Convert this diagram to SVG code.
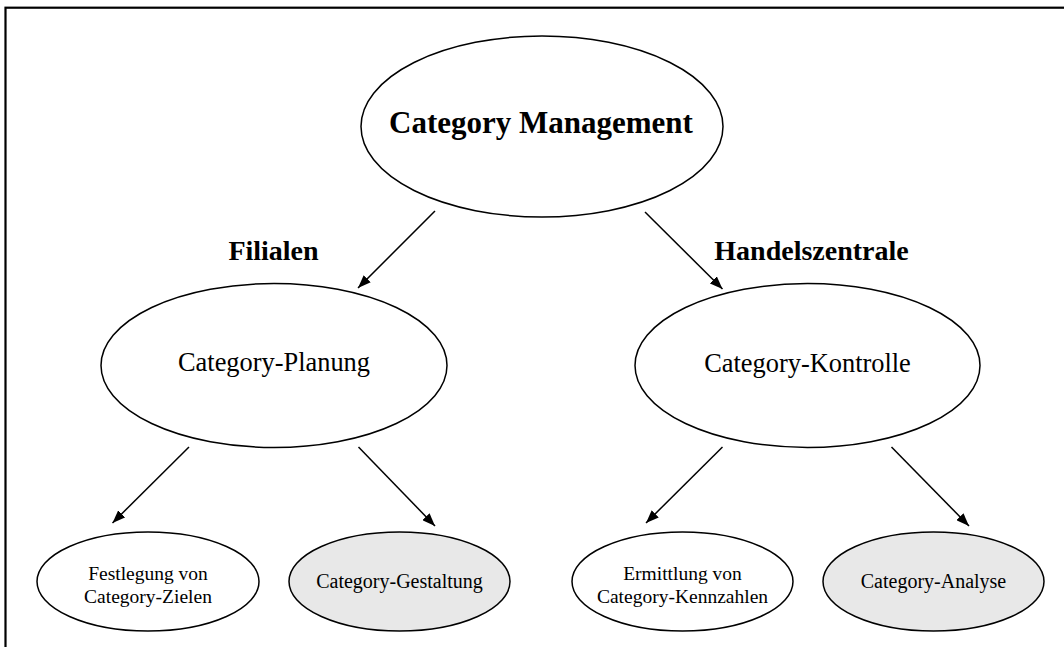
<svg xmlns="http://www.w3.org/2000/svg" width="1064" height="647" viewBox="0 0 1064 647">
<style>
.n{fill:#fff;stroke:#000;stroke-width:1.5}
.g{fill:#e8e8e8;stroke:#000;stroke-width:1.5}
.t{font-family:"Liberation Serif","Times New Roman",serif;fill:#000;text-anchor:middle}
.b{font-weight:bold}
.c{stroke:#000;stroke-width:1.5;fill:none;marker-end:url(#ah)}
</style>
<defs>
<marker id="ah" viewBox="0 0 13 10" refX="13" refY="5" markerWidth="13" markerHeight="10" markerUnits="userSpaceOnUse" orient="auto">
<path d="M0,0 L13,5 L0,10 z" fill="#000"/>
</marker>
</defs>
<rect x="5.5" y="7.7" width="1100" height="700" fill="none" stroke="#000" stroke-width="2.2"/>
<g id="connectors">
<line class="c" x1="435" y1="211" x2="358" y2="288"/>
<line class="c" x1="645" y1="212" x2="722.5" y2="289"/>
<line class="c" x1="189" y1="447" x2="112.5" y2="523"/>
<line class="c" x1="358.5" y1="447" x2="435" y2="526"/>
<line class="c" x1="722.5" y1="447" x2="646" y2="523"/>
<line class="c" x1="891.5" y1="447" x2="969" y2="526"/>
</g>
<g id="cm">
<ellipse class="n" cx="542" cy="126.5" rx="181" ry="90.5"/>
<text class="t b" x="541" y="133" font-size="31">Category Management</text>
</g>
<g id="lbl-filialen"><text class="t b" x="273.5" y="260" font-size="28">Filialen</text></g>
<g id="lbl-handel"><text class="t b" x="811.5" y="260" font-size="28">Handelszentrale</text></g>
<g id="planung">
<ellipse class="n" cx="274" cy="365.5" rx="173" ry="82"/>
<text class="t" x="274" y="371" font-size="26.4">Category-Planung</text>
</g>
<g id="kontrolle">
<ellipse class="n" cx="807.5" cy="365.5" rx="172.5" ry="82"/>
<text class="t" x="807.5" y="372" font-size="26.4">Category-Kontrolle</text>
</g>
<g id="festlegung">
<ellipse class="n" cx="148" cy="581.5" rx="111" ry="49.5"/>
<text class="t" x="148" y="580" font-size="19.5">Festlegung von</text>
<text class="t" x="148" y="603" font-size="19.5">Category-Zielen</text>
</g>
<g id="gestaltung">
<ellipse class="g" cx="399.5" cy="581.5" rx="110.5" ry="49.5"/>
<text class="t" x="399.5" y="588" font-size="20">Category-Gestaltung</text>
</g>
<g id="ermittlung">
<ellipse class="n" cx="682.5" cy="581.5" rx="110.5" ry="49.5"/>
<text class="t" x="682.5" y="580" font-size="19.5">Ermittlung von</text>
<text class="t" x="682.5" y="603" font-size="19.5">Category-Kennzahlen</text>
</g>
<g id="analyse">
<ellipse class="g" cx="933.5" cy="581.5" rx="110.5" ry="49.5"/>
<text class="t" x="933.5" y="588" font-size="20">Category-Analyse</text>
</g>
</svg>
